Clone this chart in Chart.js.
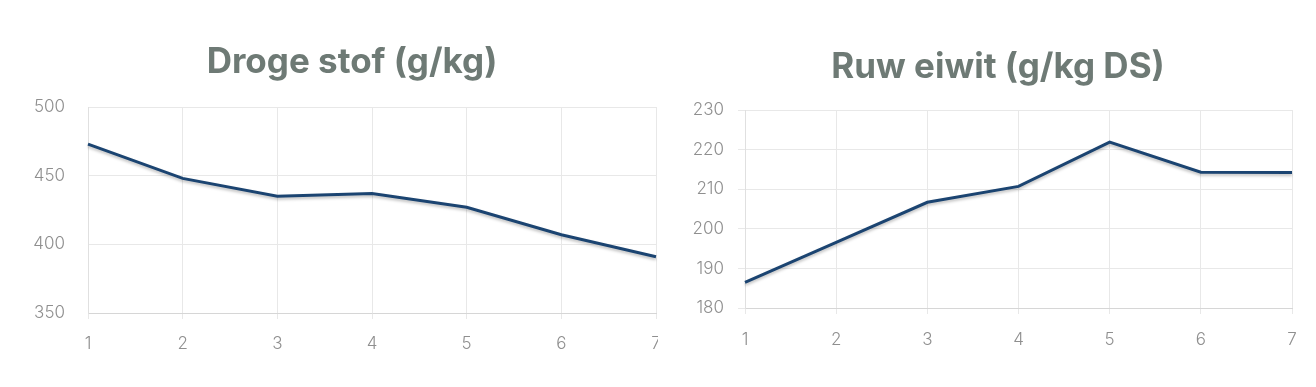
<!DOCTYPE html>
<html>
<head>
<meta charset="utf-8">
<script src="https://cdn.jsdelivr.net/npm/chart.js@4.4.1/dist/chart.umd.min.js"></script>
<style>
  html, body { margin: 0; padding: 0; background: #fff; }
  .wrap { position: absolute; top: 0; width: 658px; height: 387px; }
  #w1 { left: 0; }
  #w2 { left: 658px; }
</style>
</head>
<body>
<div class="wrap" id="w1"><canvas id="c1"></canvas></div>
<div class="wrap" id="w2"><canvas id="c2"></canvas></div>
<script>
// ── Data ───────────────────────────────────────────────────────────────────
const weeks     = ['1', '2', '3', '4', '5', '6', '7'];
const drogeStof = [473, 448, 435, 437, 427, 407, 391];
const ruwEiwit  = [186.5, 196.6, 206.7, 210.7, 221.9, 214.3, 214.2];

const TITLE_1 = 'Droge stof (g/kg)';
const TITLE_2 = 'Ruw eiwit (g/kg DS)';

// ── Style ──────────────────────────────────────────────────────────────────
const LINE  = '#1b4471';
const GRID  = '#e8e8e8';
const TICK  = '#8f8f8f';
const TITLE = '#6e7a75';
const FONT  = 'Inter, "Open Sans", sans-serif';

// subtle shadow under the line
const shadow = {
  id: 'shadow',
  beforeDatasetDraw(chart) {
    const ctx = chart.ctx;
    ctx.save();
    ctx.shadowColor = 'rgba(0,0,0,0.25)';
    ctx.shadowBlur = 3;
    ctx.shadowOffsetY = 2;
  },
  afterDatasetDraw(chart) { chart.ctx.restore(); },
};

// title drawn at a fixed spot (the original isn't centred on canvas or plot)
const posTitle = {
  id: 'posTitle',
  afterDraw(chart, args, opts) {
    const ctx = chart.ctx;
    ctx.save();
    ctx.font = `700 ${opts.size}px ${FONT}`;
    ctx.fillStyle = TITLE;
    ctx.textAlign = 'center';
    ctx.textBaseline = 'alphabetic';
    ctx.fillText(opts.text, opts.x, opts.y);
    ctx.restore();
  },
};

function makeChart(id, data, title, o) {
  return new Chart(document.getElementById(id), {
    type: 'line',
    data: {
      labels: weeks,
      datasets: [{
        data,
        borderColor: LINE,
        borderWidth: 3,
        pointRadius: 0,
        tension: 0,
        fill: false,
      }],
    },
    plugins: [shadow, posTitle],
    options: {
      responsive: true,
      maintainAspectRatio: false,
      animation: false,
      layout: { padding: { right: o.padRight, left: 0, top: o.padTop, bottom: 0 } },
      plugins: {
        legend: { display: false },
        tooltip: { enabled: false },
        title: { display: false },
        posTitle: { text: title, x: o.titleX, y: o.titleY, size: 35 },
      },
      scales: {
        x: {
          offset: false,
          grid: { color: GRID, tickLength: 6, drawTicks: true },
          border: { color: '#d6d6d6' },
          ticks: { color: TICK, font: { family: FONT, size: 17, weight: 300 }, padding: o.xPad, maxRotation: 0 },
          afterFit: s => { s.height = o.xHeight; s.paddingLeft = 0; s.paddingRight = 0; },
        },
        y: {
          min: o.min, max: o.max,
          grid: { color: GRID, tickLength: o.yTick },
          border: { color: '#e0e0e0' },
          ticks: { stepSize: o.step, color: TICK, font: { family: FONT, size: 17, weight: 300 }, padding: o.yPad },
          afterFit: s => { s.width = o.yWidth; s.paddingTop = 0; s.paddingBottom = 0; },
        },
      },
    },
  });
}

// ── Charts ─────────────────────────────────────────────────────────────────
makeChart('c1', drogeStof, TITLE_1, {
  min: 350, max: 500, step: 50,
  padRight: 2, padTop: 107, yWidth: 88, xHeight: 74,
  titleX: 352, titleY: 73,
  xPad: 15, yPad: 23, yTick: 0,
});

makeChart('c2', ruwEiwit, TITLE_2, {
  min: 180, max: 230, step: 10,
  padRight: 24, padTop: 110, yWidth: 87, xHeight: 79,
  titleX: 340, titleY: 78,
  xPad: 16, yPad: 14, yTick: 7,
});
</script>
</body>
</html>
